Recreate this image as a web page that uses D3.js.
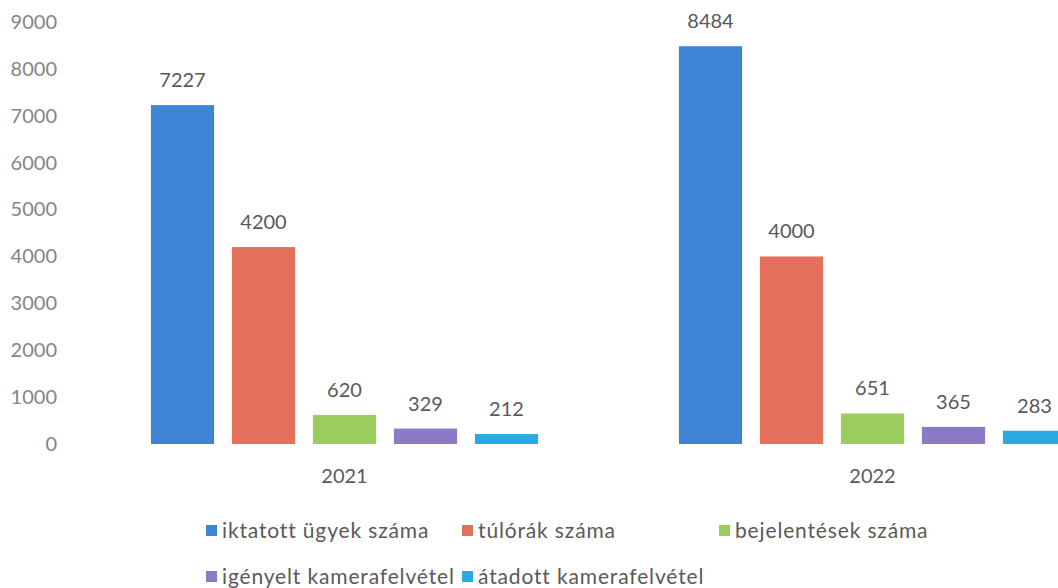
<!DOCTYPE html>
<html><head><meta charset="utf-8">
<script src="https://cdn.jsdelivr.net/npm/d3@7"></script>
<style>body{margin:0;background:#fff}svg{display:block}text{font-family:Lato,"Open Sans",sans-serif}</style>
</head><body>
<svg id="c" width="1058" height="588"></svg>
<script>
const years = ["2021", "2022"];
const seriesNames = ["iktatott ügyek száma", "túlórák száma", "bejelentések száma", "igényelt kamerafelvétel", "átadott kamerafelvétel"];
const colors = ["#3d85d4", "#e2705c", "#9acd5e", "#8c7ac6", "#2aaae2"];
const values2021 = [7227, 4200, 620, 329, 212];
const values2022 = [8484, 4000, 651, 365, 283];
const yTicks = [0, 1000, 2000, 3000, 4000, 5000, 6000, 7000, 8000, 9000];

const valuesByYear = {"2021": values2021, "2022": values2022};
const svg = d3.select("#c");
const y = d3.scaleLinear().domain([0, 9000]).range([444, 22]);
const x0 = d3.scaleBand().domain(years).range([80.5, 1136.5]).paddingInner(0.233).paddingOuter(0.1165);
const x1 = d3.scaleBand().domain(d3.range(seriesNames.length)).range([0, x0.bandwidth()]).paddingInner(0.22).paddingOuter(0.11);

// y axis
const yAxis = d3.axisLeft(y).tickValues(yTicks).tickSize(0).tickPadding(0).tickFormat(d3.format("d"));
const ga = svg.append("g").attr("transform", "translate(57,0)").call(yAxis);
ga.select(".domain").remove();
ga.selectAll("text").attr("fill", "#858585").style("font-size", "20px").style("font-family", "Lato");

// bars
years.forEach(yr => {
  const g = svg.append("g").attr("transform", `translate(${x0(yr)},0)`);
  const vals = valuesByYear[yr];
  g.selectAll("rect").data(vals).join("rect")
    .attr("x", (d, i) => x1(i)).attr("width", x1.bandwidth())
    .attr("y", d => y(d)).attr("height", d => y(0) - y(d))
    .attr("fill", (d, i) => colors[i]);
  g.selectAll("text.v").data(vals).join("text").attr("class", "v")
    .attr("x", (d, i) => x1(i) + x1.bandwidth() / 2)
    .attr("y", d => y(d) - 18)
    .attr("text-anchor", "middle").attr("fill", "#595959").style("font-size", "20px")
    .text(d => d);
  svg.append("text").attr("x", x0(yr) + x0.bandwidth() / 2).attr("y", 483)
    .attr("text-anchor", "middle").attr("fill", "#595959").style("font-size", "20px").text(yr);
});

// legend
const legendCols = [206, 462, 719];
const legendRows = [531, 577];
seriesNames.forEach((name, i) => {
  const col = i < 3 ? i : i - 3;
  const row = i < 3 ? 0 : 1;
  const lx = legendCols[col], ly = legendRows[row];
  svg.append("rect").attr("x", lx).attr("y", ly - 6).attr("width", 11).attr("height", 11).attr("fill", colors[i]);
  svg.append("text").attr("x", lx + 16).attr("y", ly + 7).attr("fill", "#595959")
    .style("font-size", "21px").style("letter-spacing", "0.85px").text(name);
});
</script>
</body></html>
